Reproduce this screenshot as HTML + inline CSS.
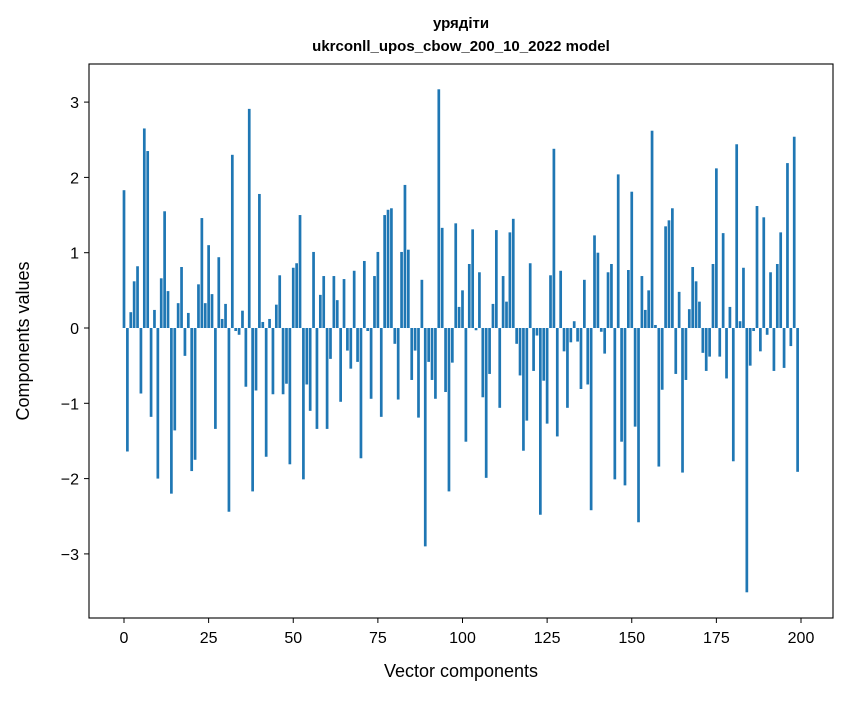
<!DOCTYPE html>
<html><head><meta charset="utf-8"><style>
body{margin:0;background:#fff}
svg text{font-family:"Liberation Sans","DejaVu Sans",sans-serif;fill:#000}
</style></head><body>
<svg id="chart" width="847" height="696" xmlns="http://www.w3.org/2000/svg">
<rect width="847" height="696" fill="#fff"/>
<text x="461" y="28" text-anchor="middle" font-size="15" font-weight="bold">урядіти</text>
<text x="461" y="51" text-anchor="middle" font-size="15" font-weight="bold">ukrconll_upos_cbow_200_10_2022 model</text>
<g id="bars"></g>
<g id="axes"></g>
<rect x="89" y="64" width="744" height="554" fill="none" stroke="#000" stroke-width="1.1"/>
<text x="461" y="677" text-anchor="middle" font-size="18">Vector components</text>
<text transform="translate(29,341) rotate(-90)" text-anchor="middle" font-size="18">Components values</text>
</svg>
<script>
const values = [1.83,-1.64,0.21,0.62,0.82,-0.87,2.65,2.35,-1.18,0.24,-2.0,0.66,1.55,0.49,-2.2,-1.36,0.33,0.81,-0.37,0.2,-1.9,-1.75,0.58,1.46,0.33,
1.10,0.45,-1.34,0.94,0.12,0.32,-2.44,2.30,-0.04,-0.09,0.23,-0.78,2.91,-2.17,-0.83,1.78,0.08,-1.71,0.12,-0.88,0.31,0.70,-0.88,-0.74,-1.81,
0.80,0.86,1.50,-2.01,-0.75,-1.10,1.01,-1.34,0.44,0.69,-1.34,-0.41,0.69,0.37,-0.98,0.65,-0.30,-0.54,0.76,-0.45,-1.73,0.89,-0.04,-0.94,0.69,
1.01,-1.18,1.50,1.57,1.59,-0.21,-0.95,1.01,1.90,1.04,-0.69,-0.30,-1.19,0.64,-2.90,-0.45,-0.69,-0.94,3.17,1.33,-0.85,-2.17,-0.46,1.39,
0.28,0.50,-1.51,0.85,1.31,-0.03,0.74,-0.92,-1.99,-0.61,0.32,1.30,-1.06,0.69,0.35,1.27,1.45,-0.21,-0.63,-1.63,-1.23,0.86,-0.57,-0.10,-2.48,
-0.70,-1.27,0.70,2.38,-1.44,0.76,-0.31,-1.06,-0.19,0.09,-0.18,-0.81,0.64,-0.75,-2.42,1.23,1.00,-0.05,-0.34,0.74,0.85,-2.01,2.04,-1.51,-2.09,
0.77,1.81,-1.31,-2.58,0.69,0.24,0.50,2.62,0.04,-1.84,-0.82,1.35,1.43,1.59,-0.61,0.48,-1.92,-0.69,0.25,0.81,0.62,0.35,-0.33,-0.57,-0.38,
0.85,2.12,-0.38,1.26,-0.67,0.28,-1.77,2.44,0.09,0.80,-3.51,-0.50,-0.04,1.62,-0.31,1.47,-0.09,0.74,-0.57,0.85,1.27,-0.53,2.19,-0.24,2.54,-1.91];
const xTicks = [0,25,50,75,100,125,150,175,200];
const yTicks = [-3,-2,-1,0,1,2,3];
const NS="http://www.w3.org/2000/svg";
function xs(v){return 124+v*3.385;}
function ys(v){return 328-v*75.3;}
const bars=document.getElementById('bars');
values.forEach((v,i)=>{
  const r=document.createElementNS(NS,'rect');
  
  
  const w=0.8*3.385;
  r.setAttribute('x',xs(i)-w/2);
  r.setAttribute('width',w);
  r.setAttribute('y',Math.min(ys(v),ys(0)));
  r.setAttribute('height',Math.abs(ys(v)-ys(0)));
  r.setAttribute('fill','#1f77b4');
  bars.appendChild(r);
});
const axes=document.getElementById('axes');
xTicks.forEach(t=>{
  const l=document.createElementNS(NS,'line');
  
  
  l.setAttribute('x1',xs(t));l.setAttribute('x2',xs(t));
  l.setAttribute('y1',618);l.setAttribute('y2',623);
  l.setAttribute('stroke','#000');
  axes.appendChild(l);
  const tx=document.createElementNS(NS,'text');
  
  
  tx.setAttribute('x',xs(t));tx.setAttribute('y',643);
  tx.setAttribute('text-anchor','middle');tx.setAttribute('font-size','16');
  tx.textContent=t;
  axes.appendChild(tx);
});
yTicks.forEach(t=>{
  const l=document.createElementNS(NS,'line');
  
  
  l.setAttribute('x1',84);l.setAttribute('x2',89);
  l.setAttribute('y1',ys(t));l.setAttribute('y2',ys(t));
  l.setAttribute('stroke','#000');
  axes.appendChild(l);
  const tx=document.createElementNS(NS,'text');
  
  
  tx.setAttribute('x',79);tx.setAttribute('y',ys(t)+6);
  tx.setAttribute('text-anchor','end');tx.setAttribute('font-size','16');
  tx.textContent=t<0?'\u2212'+Math.abs(t):String(t);
  axes.appendChild(tx);
});
</script>
</body></html>
